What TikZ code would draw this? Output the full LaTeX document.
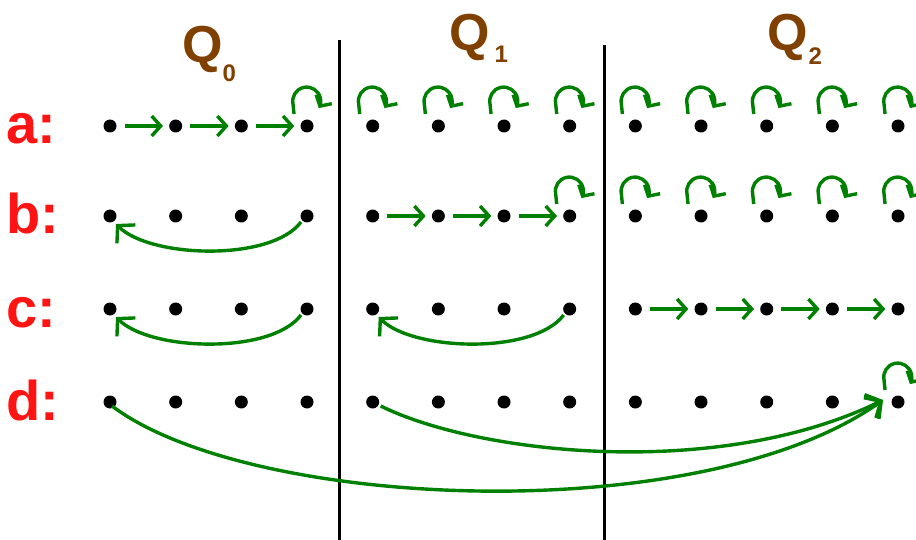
\documentclass[tikz,border=0pt]{standalone}
\usepackage{fontspec}
\setmainfont{Liberation Sans}
\usetikzlibrary{arrows.meta}
\definecolor{qbrown}{RGB}{128,64,0}
\definecolor{lblred}{RGB}{255,20,20}
\definecolor{agreen}{RGB}{0,128,0}
\tikzset{
  dotnode/.style={circle,fill=black,inner sep=0pt,minimum size=13pt},
  fwd/.style={agreen,line width=3.4pt,-{Straight Barb[length=9pt,width=20pt]},shorten <=8pt,shorten >=6pt},
  back/.style={agreen,line width=3.4pt,-{Straight Barb[length=12pt,width=26pt]}},
  selfloop/.style={agreen,line width=3.4pt,line join=round,-{Straight Barb[length=8pt,width=18pt]}},
  rowlabel/.style={text=lblred,font=\fontsize{56}{60}\selectfont\bfseries,anchor=base west,inner sep=0pt},
  qlabel/.style={text=qbrown,font=\fontsize{52}{56}\selectfont\bfseries,anchor=base west,inner sep=0pt},
  divider/.style={black,line width=3pt},
}
\newcommand{\qsub}[2]{\raisebox{#1}{\fontsize{24}{24}\selectfont #2}}
\begin{document}
\begin{tikzpicture}[x=1pt,y=-1pt]
\useasboundingbox (0,0) rectangle (916,540);
% dividers
\coordinate (v1t) at (339,40); \coordinate (v1b) at (339,540);
\coordinate (v2t) at (604,45); \coordinate (v2b) at (604,540);
\draw[divider] (v1t) -- (v1b);
\draw[divider] (v2t) -- (v2b);
% headings
\node[qlabel] (q0) at (182,63) {Q\qsub{-19pt}{0}};
\node[qlabel] (q1) at (449,51) {Q\hspace{5pt}\qsub{-12pt}{1}};
\node[qlabel] (q2) at (767,51) {Q\hspace{1pt}\qsub{-14pt}{2}};
% row labels
\node[rowlabel] (la) at (6,144) {a:};
\node[rowlabel] (lb) at (6,234) {b:};
\node[rowlabel] (lc) at (6,327) {c:};
\node[rowlabel] (ld) at (6,420) {d:};
% dots
\foreach \r/\y in {a/126,b/216,c/309,d/402}{
  \foreach \i in {0,...,12}{
    \node[dotnode] (\r\i) at ({110+\i*65.67},\y) {};
  }
}
% straight arrows
\foreach \i/\j in {0/1,1/2,2/3}{ \draw[fwd] (a\i) -- (a\j); }
\foreach \i/\j in {4/5,5/6,6/7}{ \draw[fwd] (b\i) -- (b\j); }
\foreach \i/\j in {8/9,9/10,10/11,11/12}{ \draw[fwd] (c\i) -- (c\j); }
% self loops
\foreach \n in {a3,a4,a5,a6,a7,a8,a9,a10,a11,a12,b7,b8,b9,b10,b11,b12,d12}{
  \draw[selfloop] ([shift={(-13,-12)}]\n.center) -- ([shift={(-14,-22)}]\n.center)
    arc[start angle=168,end angle=390,radius=14];
}
% backward arcs
\foreach \s/\e in {b3/b0,c3/c0,c7/c4}{
  \draw[back] ([shift={(-6,6)}]\s.center)
    .. controls ([shift={(-36,46)}]\s.center) and ([shift={(40,42)}]\e.center)
    .. ([shift={(6,8)}]\e.center);
}
% long arcs in row d
\draw[back] ([shift={(2,4)}]d0.center) .. controls (250,510) and (700,530) .. ([shift={(-15,-2)}]d12.center);
\draw[back] ([shift={(8,4)}]d4.center) .. controls (480,455) and (720,480) .. ([shift={(-15,-2)}]d12.center);
\end{tikzpicture}
\end{document}
